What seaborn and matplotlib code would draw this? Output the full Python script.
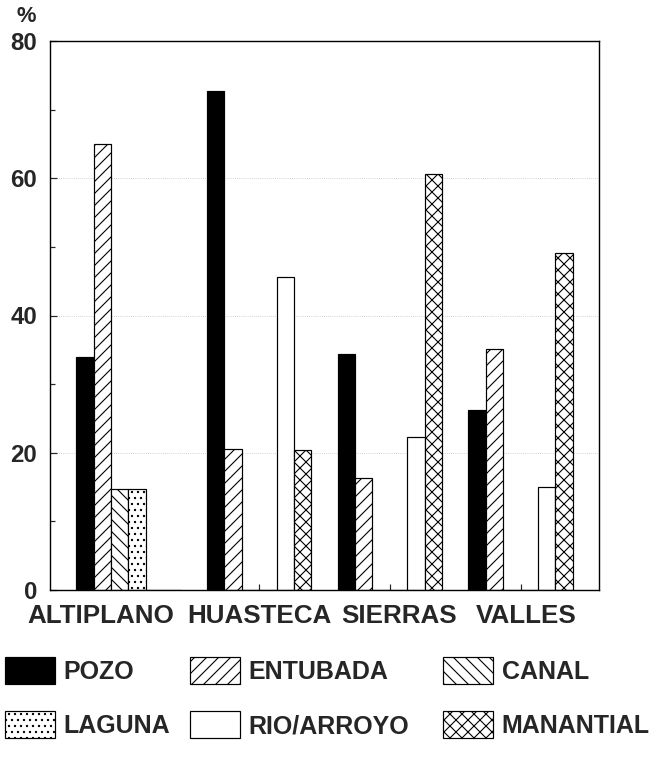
import matplotlib

matplotlib.use("Agg")
import matplotlib.pyplot as plt
import matplotlib.transforms as mtransforms
from matplotlib.patches import Patch
import pandas as pd
import seaborn as sns

# water source share (%) by region
REGIONS = ["ALTIPLANO", "HUASTECA", "SIERRAS", "VALLES"]
SOURCES = ["POZO", "ENTUBADA", "CANAL", "LAGUNA", "RIO/ARROYO", "MANANTIAL"]
POZO = [34.0, 72.7, 34.4, 26.2]
ENTUBADA = [65.0, 20.6, 16.3, 35.1]
CANAL = [14.7, 0, 0, 0]
LAGUNA = [14.7, 0, 0, 0]
RIO = [0, 45.6, 22.3, 15.0]
MANANTIAL = [0, 20.4, 60.6, 49.1]

FILL = {"POZO": "black", "ENTUBADA": "white", "CANAL": "white",
        "LAGUNA": "white", "RIO/ARROYO": "white", "MANANTIAL": "white"}
HATCH = {"POZO": "", "ENTUBADA": "//", "CANAL": "\\\\", "LAGUNA": "..",
         "RIO/ARROYO": "", "MANANTIAL": "xx"}

sns.set_style("ticks")
plt.rcParams["font.family"] = ["Liberation Sans", "DejaVu Sans"]
plt.rcParams["font.weight"] = "bold"
plt.rcParams["hatch.linewidth"] = 1.1

df = pd.DataFrame({
    "region": REGIONS * len(SOURCES),
    "source": [s for s in SOURCES for _ in REGIONS],
    "pct": POZO + ENTUBADA + CANAL + LAGUNA + RIO + MANANTIAL,
})

DPI = 72
fig = plt.figure(figsize=(661 / DPI, 758 / DPI), dpi=DPI)
ax = fig.add_axes([50 / 661, 1 - 590 / 758, 549 / 661, 549 / 758])

sns.barplot(data=df, x="region", y="pct", hue="source", order=REGIONS,
            hue_order=SOURCES, palette=FILL, width=0.8, gap=0, dodge=True,
            edgecolor="black", linewidth=1.2, saturation=1, legend=False, ax=ax)

for cont, src in zip(ax.containers, SOURCES):
    for bar in cont:
        bar.set_hatch(HATCH[src])
        bar.set_edgecolor("black")

ax.set_xlim(-0.6, 3.6)
ax.set_ylim(0, 80)
ax.set_yticks([0, 20, 40, 60, 80])
ax.set_yticks([10, 30, 50, 70], minor=True)
ax.set_xlabel("")
ax.set_ylabel("")
ax.yaxis.grid(True, which="major", ls=":", color="0.75", lw=0.8)
ax.set_axisbelow(True)
for sp in ax.spines.values():
    sp.set_visible(True)
    sp.set_linewidth(1.4)
    sp.set_color("black")

ax.tick_params(axis="y", which="major", direction="in", length=7, width=1.2,
               labelsize=24, pad=13)
ax.tick_params(axis="y", which="minor", direction="in", length=5, width=1.2)
ax.tick_params(axis="x", direction="in", length=6, width=1.2, labelsize=26, pad=14)
for lab in ax.get_yticklabels() + ax.get_xticklabels():
    lab.set_fontweight("bold")

# nudge crowded region names like in the original print
shifts = {"ALTIPLANO": -28, "SIERRAS": 9, "VALLES": 6}
for lab in ax.get_xticklabels():
    dx = shifts.get(lab.get_text(), 0)
    if dx:
        lab.set_transform(lab.get_transform()
                          + mtransforms.ScaledTranslation(dx / DPI, 0, fig.dpi_scale_trans))

fig.text(26 / 661, 1 - 16 / 758, "%", ha="center", va="center",
         fontsize=22, fontweight="bold")

# legend: three columns of two entries each
handles = {s: Patch(facecolor=FILL[s], edgecolor="black", hatch=HATCH[s],
                    linewidth=1.2, label=s) for s in SOURCES}
columns = [(5, ["POZO", "LAGUNA"]), (190, ["ENTUBADA", "RIO/ARROYO"]),
           (443, ["CANAL", "MANANTIAL"])]
for x0, names in columns:
    fig.legend(handles=[handles[n] for n in names], loc="upper left",
               bbox_to_anchor=(x0 / 661, 1 - 657 / 758), frameon=False,
               borderpad=0, borderaxespad=0, handlelength=2.0,
               handleheight=1.28, handletextpad=0.35, labelspacing=1.1,
               prop={"size": 25, "weight": "bold"})

fig.savefig("out.png", dpi=DPI)
